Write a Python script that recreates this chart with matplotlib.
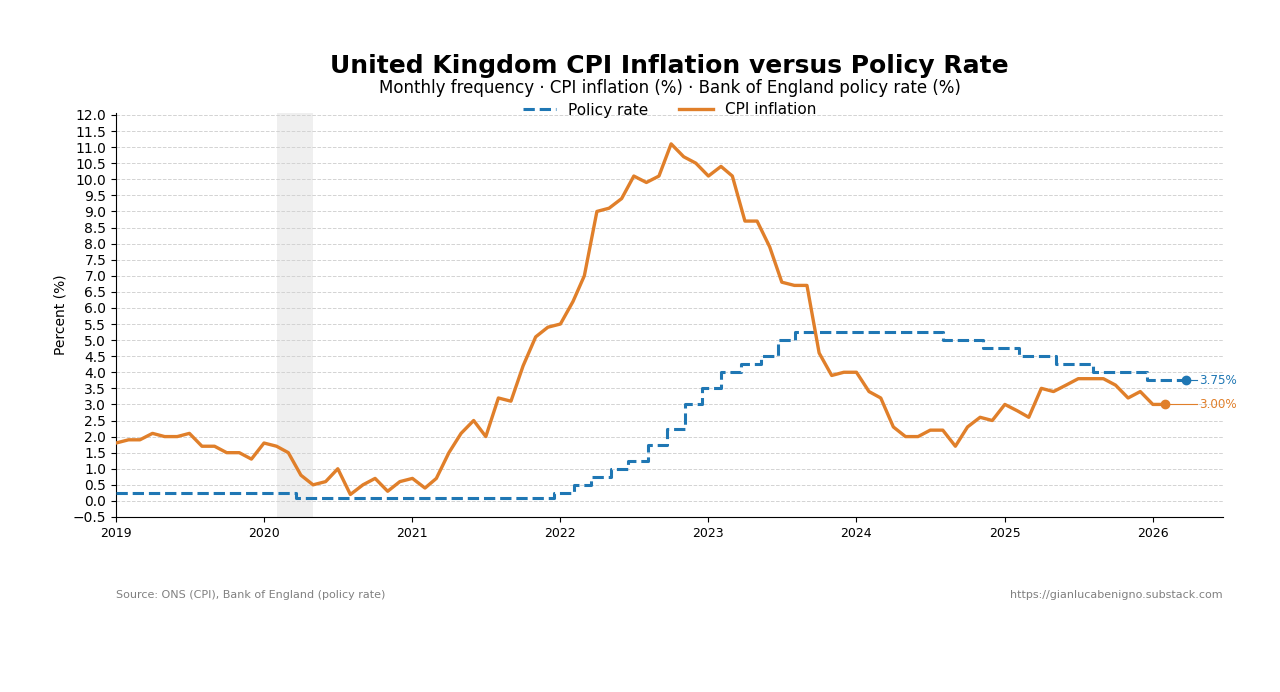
import matplotlib
matplotlib.use("Agg")
from matplotlib import pyplot as plt
import matplotlib.dates as mdates
import numpy as np
import pandas as pd

# CPI inflation, monthly, Jan 2019 - Feb 2026 (%)
cpi_start = "2019-01-01"
cpi_values = [
    1.8, 1.9, 1.9, 2.1, 2.0, 2.0, 2.1, 1.7, 1.7, 1.5, 1.5, 1.3,   # 2019
    1.8, 1.7, 1.5, 0.8, 0.5, 0.6, 1.0, 0.2, 0.5, 0.7, 0.3, 0.6,   # 2020
    0.7, 0.4, 0.7, 1.5, 2.1, 2.5, 2.0, 3.2, 3.1, 4.2, 5.1, 5.4,   # 2021
    5.5, 6.2, 7.0, 9.0, 9.1, 9.4, 10.1, 9.9, 10.1, 11.1, 10.7, 10.5,  # 2022
    10.1, 10.4, 10.1, 8.7, 8.7, 7.9, 6.8, 6.7, 6.7, 4.6, 3.9, 4.0,    # 2023
    4.0, 3.4, 3.2, 2.3, 2.0, 2.0, 2.2, 2.2, 1.7, 2.3, 2.6, 2.5,   # 2024
    3.0, 2.8, 2.6, 3.5, 3.4, 3.6, 3.8, 3.8, 3.8, 3.6, 3.2, 3.4,   # 2025
    3.0, 3.0,                                                     # 2026
]

# Bank of England policy rate (%), value from each date on
policy_dates = ["2019-01-01", "2020-03-19", "2021-12-16", "2022-02-03", "2022-03-17",
                "2022-05-05", "2022-06-16", "2022-08-04", "2022-09-22", "2022-11-03",
                "2022-12-15", "2023-02-02", "2023-03-23", "2023-05-11", "2023-06-22",
                "2023-08-03", "2024-08-01", "2024-11-07", "2025-02-06", "2025-05-08",
                "2025-08-07", "2025-12-18", "2026-03-24"]
policy_rates = [0.25, 0.1, 0.25, 0.5, 0.75, 1.0, 1.25, 1.75, 2.25, 3.0,
                3.5, 4.0, 4.25, 4.5, 5.0, 5.25, 5.0, 4.75, 4.5, 4.25,
                4.0, 3.75, 3.75]

shade_start = "2020-02-01"
shade_end = "2020-04-30"

title = "United Kingdom CPI Inflation versus Policy Rate"
subtitle = "Monthly frequency \u00b7 CPI inflation (%) \u00b7 Bank of England policy rate (%)"
source = "Source: ONS (CPI), Bank of England (policy rate)"
url = "https://gianlucabenigno.substack.com"

blue = "#1f77b4"
orange = "#e07f2a"

cpi_dates = pd.date_range(cpi_start, periods=len(cpi_values), freq="MS")
pol_dates = pd.to_datetime(policy_dates)

fig = plt.figure(figsize=(12.8, 6.92), dpi=100)
ax = fig.add_axes([116/1280, 1-517/692, (1223-116)/1280, (517-113)/692])

ax.axvspan(pd.Timestamp(shade_start), pd.Timestamp(shade_end), color="#efefef", lw=0, zorder=0)

ax.plot(pol_dates, policy_rates, drawstyle="steps-post", ls="--", lw=2.2,
        color=blue, label="Policy rate", zorder=3)
ax.plot(cpi_dates, cpi_values, lw=2.4, color=orange, label="CPI inflation", zorder=3)

# end markers + labels
lab_x = pd.Timestamp("2026-04-25")
for d, v, c in [(pol_dates[-1], policy_rates[-1], blue), (cpi_dates[-1], cpi_values[-1], orange)]:
    ax.plot([d], [v], "o", color=c, ms=6, zorder=4)
    ax.plot([d, lab_x - pd.Timedelta(days=6)], [v, v], color=c, lw=0.8, zorder=2)
    ax.text(lab_x, v, "%.2f%%" % v, color=c, fontsize=8.6, va="center", ha="left")

ax.set_xlim(pd.Timestamp("2019-01-01"), pd.Timestamp("2026-06-23"))
ax.set_ylim(-0.5, 12.06)
ax.set_yticks(np.arange(-0.5, 12.01, 0.5))
ax.yaxis.set_major_formatter(matplotlib.ticker.FuncFormatter(
    lambda v, p: ("%.1f" % v).replace("-", "\u2212")))
ax.xaxis.set_major_locator(mdates.YearLocator())
ax.xaxis.set_major_formatter(mdates.DateFormatter("%Y"))
ax.tick_params(axis="y", labelsize=10)
ax.tick_params(axis="x", labelsize=9)
ax.grid(axis="y", ls="--", color="#d3d3d3", lw=0.7)
ax.set_axisbelow(True)
ax.spines["top"].set_visible(False)
ax.spines["right"].set_visible(False)
ax.set_ylabel("Percent (%)", fontsize=10)

ax.legend(loc="center", bbox_to_anchor=(0.5, (517-110)/404), ncol=2, frameon=False,
          fontsize=11, handlelength=2.2, columnspacing=2.0)

cx = (116 + 1223) / 2 / 1280
fig.text(cx, 1-66/692, title, ha="center", va="center", fontsize=18, fontweight="bold")
fig.text(cx, 1-88/692, subtitle, ha="center", va="center", fontsize=12)
fig.text(116/1280, 1-595/692, source, ha="left", va="center", fontsize=8, color="gray")
fig.text(1223/1280, 1-595/692, url, ha="right", va="center", fontsize=8, color="gray")

fig.savefig("out.png", dpi=100)
